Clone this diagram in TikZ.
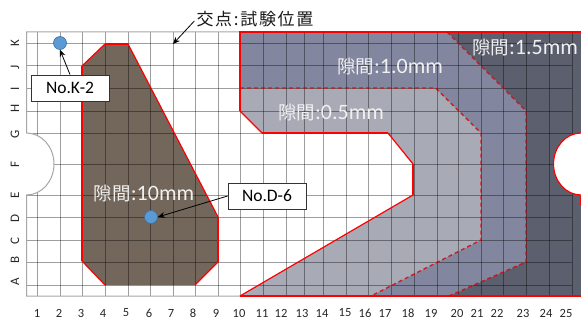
\documentclass[tikz,border=0pt]{standalone}
\usepackage{fontspec}
\setmainfont{Carlito}
\newfontfamily\cjk{Noto Sans CJK JP}
\newcommand{\gaplabel}[1]{{\fontsize{18.5}{18}\selectfont\cjk 隙間}{\fontsize{22}{22}\selectfont #1}}
\usetikzlibrary{arrows.meta}
\definecolor{zonelight}{HTML}{A8ABB6}
\definecolor{zonemid}{HTML}{82869F}
\definecolor{zonedark}{HTML}{5B5F6E}
\definecolor{zonebrown}{HTML}{73665A}
\definecolor{dotblue}{HTML}{5B9BD5}
\definecolor{dotedge}{HTML}{41719C}
\definecolor{frame}{HTML}{A6A6A6}
\tikzset{
  x=1pt,y=-1pt,
  gridline/.style={black,opacity=0.38,line width=1pt},
  rim/.style={red,line width=2pt,line join=miter},
  thinrim/.style={red,line width=1.2pt},
  zoneline/.style={red!85!black,line width=1.4pt,dash pattern=on 4pt off 3pt,opacity=0.8},
  numtext/.style={font=\fontsize{12.5}{13}\selectfont,text=black!85,inner sep=0pt},
  lettertext/.style={font=\fontsize{13}{13}\selectfont,text=black!85,inner sep=0pt,rotate=90},
  gaptext/.style={text=white!94!black,inner sep=0pt},
  callout/.style={draw=black!80,fill=white,line width=0.8pt,minimum width=78pt,minimum height=26pt,inner sep=0pt,font=\fontsize{17.5}{18}\selectfont},
  testdot/.style={circle,fill=dotblue,draw=dotedge,line width=0.6pt,minimum size=13pt,inner sep=0pt},
  pointer/.style={-{Stealth[length=7pt,width=6pt]},black,line width=0.8pt}
}
\begin{document}
\begin{tikzpicture}
\useasboundingbox (0,0) rectangle (581,321);
% zones
\fill[zonebrown] (82,66)--(105,44)--(128,44)--(218,217)--(218,262)--(195,285)--(105,285)--(82,261)--cycle;
\fill[zonelight] (240,88)--(435.5,88)--(481,133)--(481,240)--(371,296)--(240,296)--(413,195)--(413,164)--(388,133)--(262,133)--(240,111)--cycle;
\fill[zonemid] (240,32)--(447,32)--(526,111)--(526,262)--(449,296)--(371,296)--(481,240)--(481,133)--(435.5,88)--(240,88)--cycle;
\fill[zonedark] (447,32)--(581,32)--(581,296)--(449,296)--(526,262)--(526,111)--cycle;
% grid
\foreach \gx in {37,60,82,105,128,150,173,195,218,240,263,286,304,323.5,346,368,391.5,414,437,458.5,481,503.5,526,549,572}
  \draw[gridline] (\gx,32) -- (\gx,296);
\foreach \gy in {44,66,88.5,111,133,164,195,217.5,240,262.5,285}
  \draw[gridline] (26.5,\gy) -- (572,\gy);
% notches
\fill[white] (26.5,164) ellipse [x radius=27.5,y radius=31];
\fill[white] (581,164) ellipse [x radius=27.5,y radius=31];
% frame
\draw[frame,line width=1pt] (240,32) -- (26.5,32) -- (26.5,133)
  arc[start angle=-90,end angle=90,x radius=27.5,y radius=31]
  -- (26.5,296) -- (240,296);
% outlines
\draw[rim] (82,261)--(82,66);
\draw[thinrim] (82,66)--(105,44);
\draw[rim] (105,44)--(128,44);
\draw[thinrim] (128,44)--(218,217);
\draw[rim] (218,217)--(218,262);
\draw[thinrim] (218,262)--(195,285);
\draw[thinrim] (105,285)--(82,261);
\draw[rim] (581,32)--(240,32)--(240,111);
\draw[thinrim] (240,111)--(262,133);
\draw[rim] (262,133)--(388,133);
\draw[thinrim] (388,133)--(413,164);
\draw[rim] (413,164)--(413,195);
\draw[thinrim] (413,195)--(240,296);
\draw[rim] (240,296)--(581,296);
\draw[thinrim] (581,133) arc[start angle=-90,end angle=-270,x radius=27.5,y radius=31] -- (580.5,205);
\draw[zoneline] (240,88)--(435.5,88)--(481,133)--(481,240)--(371,296);
\draw[zoneline] (447,32)--(526,111)--(526,262)--(449,296);
% axis numbers
\foreach \nx/\nt in {37/1,59/2,81/3,103/4,126/5,149/6,171/7,193/8,216/9,239/10,262/11,281/12,302/13,322/14,345/15,365/16,385/17,408/18,431/19,457/20,477/21,497/22,523/23,546/24,566/25}
  \node[numtext] (num\nt) at (\nx,313) {\nt};
\foreach \ly/\lt in {43/K,67/J,89/I,108/H,134/G,165/F,195/E,218/D,241/C,260/B,282/A}
  \node[lettertext] (let\lt) at (15,\ly) {\lt};
% labels
\node[gaptext] (gapa) at (390,66) {\gaplabel{:1.0mm}};
\node[gaptext] (gapb) at (331,112) {\gaplabel{:0.5mm}};
\node[gaptext] (gapc) at (525,47) {\gaplabel{:1.5mm}};
\node[gaptext] (gapd) at (144,193) {\gaplabel{:10mm}};
\node[inner sep=0pt,text=black!90] (crosslabel) at (255,19) {\fontsize{17}{17}\selectfont\cjk\addfontfeature{LetterSpace=10}交点:試験位置};
\coordinate (crosspoint) at (173,44);
\draw[pointer] (crosslabel.west) ++(-2,2) -- (crosspoint);
\node[testdot] (dotk) at (60,43) {};
\node[testdot] (dotd) at (151,217) {};
\node[callout] (boxk) at (70,88) {No.K-2};
\node[callout] (boxd) at (267,196) {No.D-6};
\draw[pointer] (boxk.north) -- (dotk.south);
\draw[pointer] (boxd.west) -- (dotd.east);
\end{tikzpicture}
\end{document}
